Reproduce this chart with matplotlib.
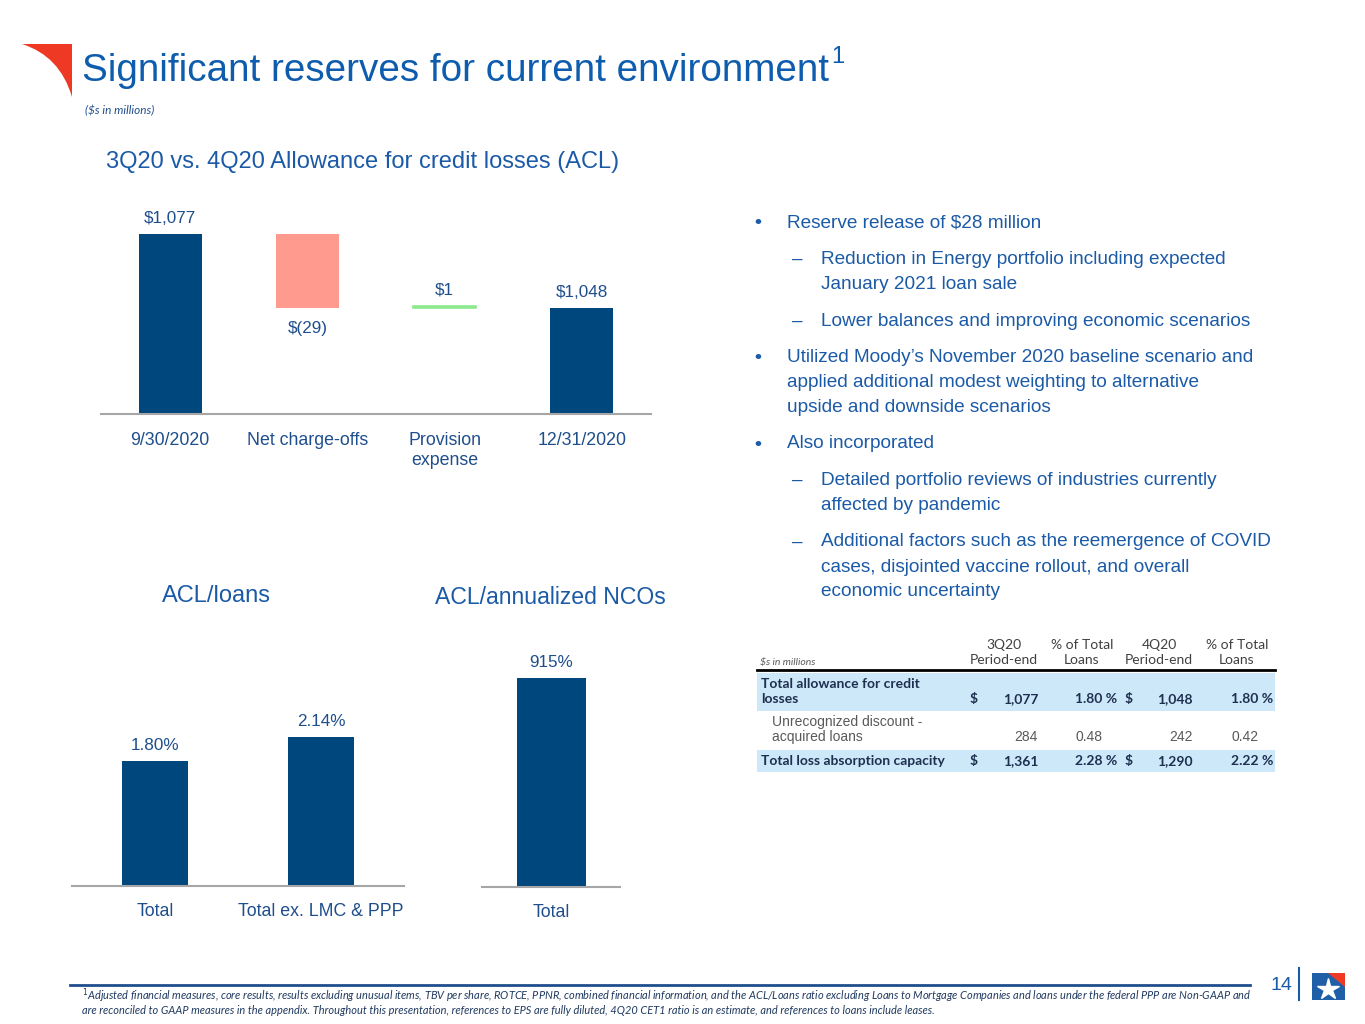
import matplotlib
matplotlib.use("Agg")
import matplotlib.pyplot as plt
from matplotlib.patches import Rectangle, Polygon, PathPatch
from matplotlib.path import Path
from matplotlib.lines import Line2D

# ---- data ----
wf_categories = ['9/30/2020', 'Net charge-offs', 'Provision\nexpense', '12/31/2020']
wf_values = [1077, -29, 1, 1048]
wf_is_total = [True, False, False, True]

loan_categories = ['Total', 'Total ex. LMC & PPP']
loan_ratios = [1.80, 2.14]

nco_categories = ['Total']
nco_ratios = [915]

table_labels = ['Total allowance for credit\nlosses', 'Unrecognized discount -\nacquired loans',
                'Total loss absorption capacity']
table_bold = [True, False, True]
q3_period_end = [1077, 284, 1361]
q3_pct_loans = [1.80, 0.48, 2.28]
q4_period_end = [1048, 242, 1290]
q4_pct_loans = [1.80, 0.42, 2.22]

bullets = [
    ('•', 'Reserve release of $28 million'),
    ('–', 'Reduction in Energy portfolio including expected\nJanuary 2021 loan sale'),
    ('–', 'Lower balances and improving economic scenarios'),
    ('•', 'Utilized Moody’s November 2020 baseline scenario and\napplied additional modest weighting to alternative\nupside and downside scenarios'),
    ('•', 'Also incorporated'),
    ('–', 'Detailed portfolio reviews of industries currently\naffected by pandemic'),
    ('–', 'Additional factors such as the reemergence of COVID\ncases, disjointed vaccine rollout, and overall\neconomic uncertainty'),
]

footnote = ("$^1$Adjusted financial measures, core results, results excluding unusual items, TBV per share, ROTCE, PPNR, "
            "combined financial information, and the ACL/Loans ratio excluding Loans to Mortgage Companies and loans "
            "under the federal PPP are Non-GAAP and\nare reconciled to GAAP measures in the appendix. Throughout this "
            "presentation, references to EPS are fully diluted, 4Q20 CET1 ratio is an estimate, and references to "
            "loans include leases.")

# ---- styles ----
W, H = 1365, 1024
NAVY = '#00477D'
PINK = '#FF9A8E'
GREEN = '#8DE98D'
TXT = '#1F4E8C'
TITLE = '#0E5CAD'
BODY = '#1B5AA6'
AXIS = '#A6A6A6'
SANS = ['Liberation Sans', 'DejaVu Sans']
CAL = ['Lato', 'DejaVu Sans']


def fx(x):
    return x / W


def fy(y):
    return 1 - y / H


def add_axes_px(left, right, top, bottom):
    return fig.add_axes([fx(left), fy(bottom), (right - left) / W, (bottom - top) / H])


def style_axes(ax, labels, pad):
    for s in ['top', 'left', 'right']:
        ax.spines[s].set_visible(False)
    ax.spines['bottom'].set_color(AXIS)
    ax.spines['bottom'].set_linewidth(1.5)
    ax.set_yticks([])
    ax.set_xticks(range(len(labels)))
    ax.set_xticklabels(labels, fontsize=12.8, color=TXT, family=SANS)
    ax.tick_params(axis='x', length=0, pad=pad)
    ax.patch.set_alpha(0)


fig = plt.figure(figsize=(W / 100, H / 100), dpi=100)

# ---- header ----
swoosh = Path([(fx(22), fy(44)), (fx(72), fy(44)), (fx(72), fy(97)), (fx(60), fy(56)), (fx(22), fy(44))],
              [Path.MOVETO, Path.LINETO, Path.LINETO, Path.CURVE3, Path.CURVE3])
fig.add_artist(PathPatch(swoosh, facecolor='#EE3A24', edgecolor='none', transform=fig.transFigure))
title = fig.text(fx(82), fy(71), 'Significant reserves for current environment', fontsize=27.8, color=TITLE,
                 family=SANS, va='center', ha='left')
fig.canvas.draw()
tb = title.get_window_extent()
fig.text(tb.x1 / W + 2 / W, fy(57), '1', fontsize=17, color=TITLE, family=SANS, va='center', ha='left')
fig.text(fx(85), fy(111), '($s in millions)', fontsize=8.5, color=TXT, family=CAL, style='italic',
         va='center')
fig.text(fx(106), fy(162), '3Q20 vs. 4Q20 Allowance for credit losses (ACL)', fontsize=17, color=BODY,
         family=SANS, va='center')

# ---- waterfall ----
ax = add_axes_px(101, 651, 200, 414)
running = 0
for i, v in enumerate(wf_values):
    if wf_is_total[i]:
        bottom, height, color = 0, v, NAVY
        running = v
    else:
        bottom = min(running, running + v)
        height = abs(v)
        color = PINK if v < 0 else GREEN
        running += v
    ax.bar(i, height, bottom=bottom, width=0.46, color=color, edgecolor=color,
           linewidth=0 if wf_is_total[i] or v < 0 else 1.2)
    if v < 0:
        ax.annotate(f'$({abs(v)})', (i, bottom), xytext=(0, -9), textcoords='offset points',
                    ha='center', va='top', fontsize=12.3, color=TXT, family=SANS)
    else:
        ax.annotate(f'${v:,}', (i, bottom + height), xytext=(0, 6), textcoords='offset points',
                    ha='center', va='bottom', fontsize=12.3, color=TXT, family=SANS)
ax.set_xlim(-0.504, 3.504)
ax.set_ylim(1006.5, 1090.4)
style_axes(ax, wf_categories, 13)

# ---- ACL / loans ----
ax2 = add_axes_px(72, 404, 600, 886)
ax2.bar(range(len(loan_ratios)), loan_ratios, width=0.4, color=NAVY)
for i, v in enumerate(loan_ratios):
    ax2.annotate(f'{v:.2f}%', (i, v), xytext=(0, 6), textcoords='offset points', ha='center',
                 va='bottom', fontsize=12.3, color=TXT, family=SANS)
ax2.set_xlim(-0.5, 1.5)
ax2.set_ylim(0, 4.12)
style_axes(ax2, loan_categories, 12)
fig.text(fx(216), fy(596), 'ACL/loans', fontsize=17, color=BODY, family=SANS, ha='center', va='center')

# ---- ACL / annualized NCOs ----
ax3 = add_axes_px(482, 620, 600, 887)
ax3.bar(range(len(nco_ratios)), nco_ratios, width=0.5, color=NAVY)
for i, v in enumerate(nco_ratios):
    ax3.annotate(f'{v}%', (i, v), xytext=(0, 6), textcoords='offset points', ha='center',
                 va='bottom', fontsize=12.3, color=TXT, family=SANS)
ax3.set_xlim(-0.5, 0.5)
ax3.set_ylim(0, 1256.5)
style_axes(ax3, nco_categories, 12)
fig.text(fx(550), fy(598), 'ACL/annualized NCOs', fontsize=16.6, color=BODY, family=SANS,
         ha='center', va='center')

# ---- bullets ----
y = 223
for mark, txt in bullets:
    if mark == '•':
        fig.text(fx(758), fy(y), mark, fontsize=14, color=BODY, family=SANS, ha='center', va='center',
                 weight='bold')
        xt = 787
    else:
        fig.text(fx(792), fy(y), mark, fontsize=13.7, color=BODY, family=SANS, ha='left', va='center')
        xt = 821
    for k, line in enumerate(txt.split('\n')):
        fig.text(fx(xt), fy(y + 25 * k), line, fontsize=13.7, color=BODY, family=SANS, va='center')
    y += 25 * (txt.count('\n')) + 36.5

# ---- table ----
HDR = '#404040'
BOLD = '#1F2F4F'
GRAY = '#595959'
LIGHT = '#CDE9F9'
fig.text(fx(760), fy(662), '$s in millions', fontsize=7.5, color=GRAY, family=CAL, style='italic', va='center')
for xc, (l1, l2) in zip([1004, 1082, 1159, 1237],
                        [('3Q20', 'Period-end'), ('% of Total', 'Loans'), ('4Q20', 'Period-end'),
                         ('% of Total', 'Loans')]):
    fig.text(fx(xc), fy(645), l1, fontsize=10, color=HDR, family=CAL, ha='center', va='center')
    fig.text(fx(xc), fy(660), l2, fontsize=10, color=HDR, family=CAL, ha='center', va='center')
fig.add_artist(Line2D([fx(757), fx(1275)], [fy(670), fy(670)], color='black', lw=2))

row_spans = [(673, 711), (711, 750), (750, 772)]
for i, label in enumerate(table_labels):
    top, bot = row_spans[i]
    if table_bold[i]:
        fig.add_artist(Rectangle((fx(757), fy(bot)), (1275 - 757) / W, (bot - top) / H,
                                 facecolor=LIGHT, edgecolor='none', transform=fig.transFigure))
    lines = label.split('\n')
    yv = top + 11 if len(lines) == 1 else top + 26
    if table_bold[i]:
        kw = dict(fontsize=10, color=BOLD, family=CAL, weight='bold', va='center')
        for k, line in enumerate(lines):
            fig.text(fx(761), fy(top + 11 + 15 * k), line, **kw)
        fig.text(fx(970), fy(yv), '$', ha='left', **kw)
        fig.text(fx(1038), fy(yv), f'{q3_period_end[i]:,}', ha='right', **kw)
        fig.text(fx(1117), fy(yv), f'{q3_pct_loans[i]:.2f} %', ha='right', **kw)
        fig.text(fx(1125), fy(yv), '$', ha='left', **kw)
        fig.text(fx(1193), fy(yv), f'{q4_period_end[i]:,}', ha='right', **kw)
        fig.text(fx(1273), fy(yv), f'{q4_pct_loans[i]:.2f} %', ha='right', **kw)
    else:
        kw = dict(fontsize=10, color=GRAY, family=SANS, va='center')
        for k, line in enumerate(lines):
            fig.text(fx(772), fy(top + 11 + 15 * k), line, **kw)
        fig.text(fx(1038), fy(yv), f'{q3_period_end[i]:,}', ha='right', **kw)
        fig.text(fx(1076), fy(yv), f'{q3_pct_loans[i]:.2f}', ha='left', **kw)
        fig.text(fx(1193), fy(yv), f'{q4_period_end[i]:,}', ha='right', **kw)
        fig.text(fx(1232), fy(yv), f'{q4_pct_loans[i]:.2f}', ha='left', **kw)

# ---- footer ----
fig.add_artist(Line2D([fx(70), fx(1250)], [fy(985), fy(985)], color='#1F4E8C', lw=2))
fig.text(fx(82), fy(1001), footnote, fontsize=7.9, color='#1F3A60', family=CAL, style='italic',
         va='center', linespacing=1.05)
fig.text(fx(1281), fy(985), '14', fontsize=14, color=BODY, family=SANS, ha='center', va='center')
fig.add_artist(Line2D([fx(1299), fx(1299)], [fy(968), fy(1000)], color=BODY, lw=1.5))
fig.add_artist(Polygon([(fx(1312), fy(973)), (fx(1345), fy(973)), (fx(1345), fy(1000)), (fx(1312), fy(1000))],
                       closed=True, facecolor='#1F5FA8', edgecolor='none', transform=fig.transFigure))
fig.add_artist(Polygon([(fx(1328), fy(973)), (fx(1345), fy(973)), (fx(1345), fy(987))],
                       closed=True, facecolor='#EE3A24', edgecolor='none', transform=fig.transFigure))
fig.add_artist(Line2D([fx(1328)], [fy(989)], marker='*', markersize=16, color='white',
                      transform=fig.transFigure))

fig.savefig('out.png', dpi=100)
